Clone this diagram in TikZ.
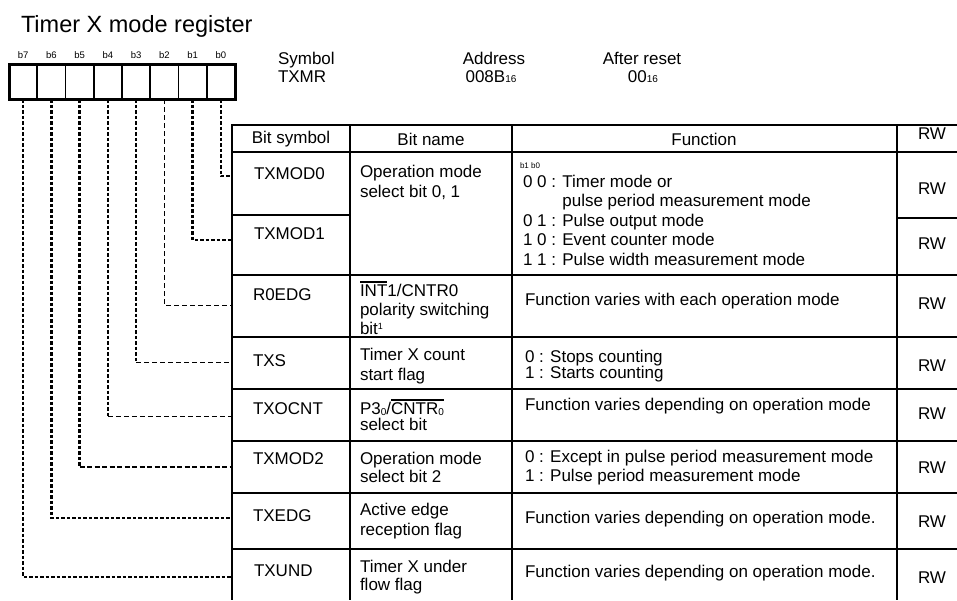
\documentclass[tikz,border=0pt]{standalone}
\usepackage{fontspec}
\setmainfont{Liberation Sans}
\newsavebox\ovlbox
\newcommand\myovl[1]{\leavevmode\sbox\ovlbox{#1}\rlap{\raise\dimexpr\ht\ovlbox+1.5pt\relax\hbox{\rule{\wd\ovlbox}{2.2pt}}}\usebox\ovlbox}
\newcommand\mysub[1]{\raisebox{-0.5pt}{\fontsize{10}{10}\selectfont #1}}
\newcommand\mysup[1]{\raisebox{5pt}{\fontsize{9}{9}\selectfont #1}}
\begin{document}
\begin{tikzpicture}[x=1pt,y=-1pt,
  every node/.style={inner sep=0pt,outer sep=0pt},
  body/.style={font=\fontsize{17}{#1}\selectfont,align=left,anchor=west},
  ctr/.style={font=\fontsize{17}{19}\selectfont,anchor=center},
  small/.style={font=\fontsize{9.5}{10}\selectfont,anchor=base},
  cell/.style={draw,line width=1.8pt,minimum width=28.25pt,minimum height=35pt},
  grid/.style={line width=2.6pt},
  thickdash/.style={line width=2.3pt,dash pattern=on 3.5pt off 2pt},
  thindash/.style={line width=1pt,dash pattern=on 5pt off 3pt},
  middash/.style={line width=1.5pt,dash pattern=on 5pt off 2.5pt}]
\useasboundingbox (0,0) rectangle (957,600);

% title
\node[font=\fontsize{23.5}{25}\selectfont,anchor=base west] (title) at (21,32) {Timer X mode register};

% register cells
\foreach \i/\k in {0/7,1/6,2/5,3/4,4/3,5/2,6/1,7/0}{
  \node[cell] (c\k) at ({9+28.25*\i+14.125},81.5) {};
  \node[small] (l\k) at ({9+28.25*\i+14.125},58) {b\k};
}
\draw[line width=3pt] (c7.north west) rectangle (c0.south east);

% header info
\node[font=\fontsize{17}{18}\selectfont,anchor=base west] (sym1) at (278,64) {Symbol};
\node[font=\fontsize{17}{18}\selectfont,anchor=base west] (sym2) at (278,82) {TXMR};
\node[font=\fontsize{17}{18}\selectfont,anchor=base] (adr1) at (494,64) {Address};
\node[font=\fontsize{17}{18}\selectfont,anchor=base] (adr2) at (491,82) {008B\mysub{16}};
\node[font=\fontsize{17}{18}\selectfont,anchor=base] (rst1) at (642,64) {After reset};
\node[font=\fontsize{17}{18}\selectfont,anchor=base] (rst2) at (643,82) {00\mysub{16}};

% table grid
\draw[grid] (957,125) -- (232,125) -- (232,600);
\foreach \x in {350,512,897}{\draw[grid] (\x,125) -- (\x,600);}
\foreach \y in {152,275,337,389,441,493,549}{\draw[grid] (232,\y) -- (957,\y);}
\draw[grid] (232,215) -- (350,215);
\draw[grid] (897,218) -- (957,218);

% header row
\node[ctr] (hsym) at (291,139) {Bit symbol};
\node[ctr] (hname) at (431,139) {Bit name};
\node[ctr] (hfun) at (704,139) {Function};
\node[ctr] (hrw) at (932,134) {RW};

% bit symbols
\node[body=19] (s0) at (254,174) {TXMOD0};
\node[body=19] (s1) at (254,234) {TXMOD1};
\node[body=19] (s2) at (253,295) {R0EDG};
\node[body=19] (s3) at (253,361) {TXS};
\node[body=19] (s4) at (253,409) {TXOCNT};
\node[body=19] (s5) at (253,459) {TXMOD2};
\node[body=19] (s6) at (253,516) {TXEDG};
\node[body=19] (s7) at (254,571) {TXUND};

% bit names
\node[body=20] (n01) at (360,182) {Operation mode\\select bit 0, 1};
\node[body=19] (n2) at (360,308) {\myovl{INT}1/CNTR0\\polarity switching\\bit\mysup{1}};
\node[body=20] (n3) at (360,366) {Timer X count\\start flag};
\node[body=16] (n4) at (360,415) {P3\mysub{0}/\myovl{CNTR\mysub{0}}\\select bit};
\node[body=18] (n5) at (360,467) {Operation mode\\select bit 2};
\node[body=20] (n6) at (360,521) {Active edge\\reception flag};
\node[body=18] (n7) at (360,577) {Timer X under\\flow flag};

% functions
\node[font=\fontsize{8}{8}\selectfont,anchor=base west] (fb) at (520,168) {b1 b0};
\node[body=19.5] (f01) at (523,220) {0 0 : Timer mode or\\\hphantom{0 0 : }pulse period measurement mode\\0 1 : Pulse output mode\\1 0 : Event counter mode\\1 1 : Pulse width measurement mode};
\node[body=19] (f2) at (525,301) {Function varies with each operation mode};
\node[body=16] (f3) at (525,366) {0 : Stops counting\\1 : Starts counting};
\node[body=19] (f4) at (525,406) {Function varies depending on operation mode};
\node[body=19] (f5) at (525,468) {0 : Except in pulse period measurement mode\\1 : Pulse period measurement mode};
\node[body=19] (f6) at (525,519) {Function varies depending on operation mode.};
\node[body=19] (f7) at (525,573) {Function varies depending on operation mode.};

% RW
\foreach \y [count=\j] in {189,244,304,366,414,468,522,578}{
  \node[ctr] (rw\j) at (932,\y) {RW};
}

% connector ends
\coordinate (e0) at (232,176);
\coordinate (e1) at (232,240);
\coordinate (e2) at (232,305);
\coordinate (e3) at (232,362);
\coordinate (e4) at (232,416);
\coordinate (e5) at (232,467);
\coordinate (e6) at (232,518);
\coordinate (e7) at (232,577);

\draw[thickdash] (c0.south) |- (e0);
\draw[thickdash] (c1.south) |- (e1);
\draw[thindash] (c2.south) |- (e2);
\draw[thickdash] (c3.south) -- (c3.south |- e3);
\draw[thindash] (c3.south |- e3) -- (e3);
\draw[thickdash] (c4.south) -- (c4.south |- e4);
\draw[thindash] (c4.south |- e4) -- (e4);
\draw[thickdash] (c5.south) -- (c5.south |- e5);
\draw[middash] (c5.south |- e5) -- (e5);
\draw[thickdash] (c6.south) |- (e6);
\draw[thickdash] (c7.south) |- (e7);
\end{tikzpicture}
\end{document}
